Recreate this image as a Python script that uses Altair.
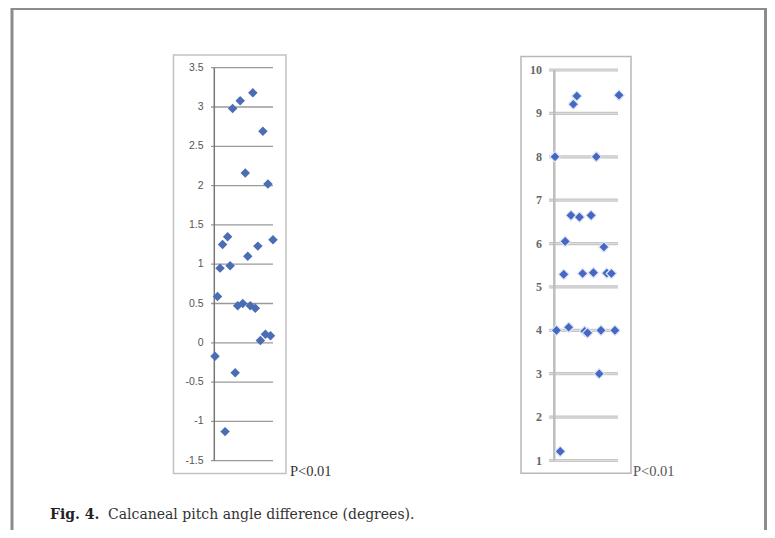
import altair as alt
import pandas as pd

# ---------------- data ----------------
left_index = list(range(1, 25))
left_values = [-0.17, 0.59, 0.95, 1.25, -1.13, 1.35, 0.98, 2.98, -0.38, 0.47, 3.08, 0.50,
               2.16, 1.10, 0.47, 3.18, 0.44, 1.23, 0.03, 2.69, 0.11, 2.02, 0.09, 1.31]
left_ticks = [-1.5, -1.0, -0.5, 0.0, 0.5, 1.0, 1.5, 2.0, 2.5, 3.0, 3.5]
left_tick_labels = ["-1.5", "-1", "-0.5", "0", "0.5", "1", "1.5", "2", "2.5", "3", "3.5"]

right_x = [1.0, 1.5, 2.8, 4.0, 4.5, 5.7, 6.5, 7.3, 8.5, 9.4, 10.5, 11.2,
           12.2, 13.4, 14.2, 15.2, 16.2, 16.8, 17.8, 18.8, 20.4, 21.6, 23.0]
right_values = [8.0, 4.0, 1.21, 5.29, 6.05, 4.07, 6.65, 9.21, 9.40, 6.61, 5.31, 3.98,
                3.94, 6.65, 5.33, 8.0, 3.0, 4.0, 5.92, 5.32, 5.31, 4.0, 9.42]
right_ticks = [1, 2, 3, 4, 5, 6, 7, 8, 9, 10]
right_tick_labels = ["1", "2", "3", "4", "5", "6", "7", "8", "9", "10"]

p_label = "P<0.01"
caption_bold = "Fig. 4."
caption_text = "Calcaneal pitch angle difference (degrees)."

# ---------------- tables ----------------
left_pts = pd.DataFrame({"i": left_index, "v": left_values})
left_tk = pd.DataFrame({"v": left_ticks, "label": left_tick_labels})
left_ax = pd.DataFrame({"lo": [left_ticks[0]], "hi": [left_ticks[-1]]})
right_pts = pd.DataFrame({"i": right_x, "v": right_values})
right_tk = pd.DataFrame({"v": right_ticks, "label": right_tick_labels})
right_ax = pd.DataFrame({"lo": [right_ticks[0]], "hi": [right_ticks[-1]]})
one = pd.DataFrame({"a": [0]})
ptxt = pd.DataFrame({"t": [p_label]})
cap1 = pd.DataFrame({"t": [caption_bold]})
cap2 = pd.DataFrame({"t": [caption_text]})

W, H = 759, 522

LX = alt.Scale(domain=[1, 24], range=[207, 265], nice=False, zero=False)
LY = alt.Scale(domain=[-1.5, 3.5], range=[452.7, 59.7], nice=False, zero=False)
RX = alt.Scale(domain=[1, 23], range=[547, 611], nice=False, zero=False)
RY = alt.Scale(domain=[1, 10], range=[452.5, 62], nice=False, zero=False)

FRAME = "#8c8c8c"

# outer frame
frame_l = alt.Chart(one).mark_rule(color=FRAME, strokeWidth=3).encode(
    x=alt.value(4), y=alt.value(0), y2=alt.value(H))
frame_t = alt.Chart(one).mark_rule(color=FRAME, strokeWidth=3).encode(
    x=alt.value(3), x2=alt.value(759), y=alt.value(0.5))
frame_r = alt.Chart(one).mark_rule(color=FRAME, strokeWidth=3).encode(
    x=alt.value(757.5), y=alt.value(0), y2=alt.value(H))

# panel boxes
box_l = alt.Chart(one).mark_rect(filled=False, stroke="#c2c2c2", strokeWidth=1.5).encode(
    x=alt.value(165.5), x2=alt.value(278), y=alt.value(47), y2=alt.value(465.5))
box_r = alt.Chart(one).mark_rect(filled=False, stroke="#b8b8b8", strokeWidth=1.5).encode(
    x=alt.value(513), x2=alt.value(623), y=alt.value(48.5), y2=alt.value(465.3))

# ---------------- left panel ----------------
l_grid = alt.Chart(left_tk).mark_rule(color="#9a9a9a", strokeWidth=1.3).encode(
    y=alt.Y("v:Q", scale=LY, axis=None), x=alt.value(203), x2=alt.value(265))
l_axis = alt.Chart(left_ax).mark_rule(color="#777777", strokeWidth=1.5).encode(
    x=alt.value(206.3), y=alt.Y("lo:Q", scale=LY, axis=None), y2="hi:Q")
l_lab = alt.Chart(left_tk).mark_text(align="right", baseline="middle", font="Liberation Sans",
                                     fontSize=10.5, color="#555555").encode(
    x=alt.value(195.5), y=alt.Y("v:Q", scale=LY, axis=None), text="label:N")
l_pts = alt.Chart(left_pts).mark_point(shape="diamond", filled=True, size=90, opacity=1,
                                       color="#4a6db3").encode(
    x=alt.X("i:Q", scale=LX, axis=None), y=alt.Y("v:Q", scale=LY, axis=None))
l_p = alt.Chart(ptxt).mark_text(align="left", baseline="alphabetic", font="Liberation Serif",
                                fontSize=14.5, color="#333333").encode(
    x=alt.value(282), y=alt.value(468), text="t:N")

# ---------------- right panel ----------------
r_grid = alt.Chart(right_tk).mark_rule(color="#c6c6c6", strokeWidth=3.2).encode(
    y=alt.Y("v:Q", scale=RY, axis=None), x=alt.value(541), x2=alt.value(610))
r_grid2 = alt.Chart(right_tk).mark_rule(color="#e4e4e4", strokeWidth=0.8).encode(
    y=alt.Y("v:Q", scale=RY, axis=None), x=alt.value(541), x2=alt.value(610))
r_axis = alt.Chart(right_ax).mark_rule(color="#bdbdbd", strokeWidth=2.5).encode(
    x=alt.value(546.3), y=alt.Y("lo:Q", scale=RY, axis=None), y2="hi:Q")
r_lab = alt.Chart(right_tk).mark_text(align="right", baseline="middle", font="Liberation Serif",
                                      fontSize=12, color="#666666", fontWeight="bold").encode(
    x=alt.value(534), y=alt.Y("v:Q", scale=RY, axis=None), text="label:N")
r_pts = alt.Chart(right_pts).mark_point(shape="diamond", filled=True, size=110, opacity=1,
                                        color="#4667c4", stroke="#dfe6f6",
                                        strokeWidth=1.2).encode(
    x=alt.X("i:Q", scale=RX, axis=None), y=alt.Y("v:Q", scale=RY, axis=None))
r_p = alt.Chart(ptxt).mark_text(align="left", baseline="alphabetic", font="Liberation Serif",
                                fontSize=14.5, color="#555555").encode(
    x=alt.value(625), y=alt.value(468), text="t:N")

# ---------------- caption ----------------
c1 = alt.Chart(cap1).mark_text(align="left", baseline="alphabetic", font="DejaVu Serif",
                               fontSize=14, fontWeight="bold", color="#222222").encode(
    x=alt.value(42), y=alt.value(511), text="t:N")
c2 = alt.Chart(cap2).mark_text(align="left", baseline="alphabetic", font="DejaVu Serif",
                               fontSize=14, color="#333333").encode(
    x=alt.value(100), y=alt.value(511), text="t:N")

chart = alt.layer(
    frame_l, frame_t, frame_r, box_l, box_r,
    l_grid, l_axis, l_lab, l_pts, l_p,
    r_grid, r_grid2, r_axis, r_lab, r_pts, r_p,
    c1, c2,
).resolve_scale(x="independent", y="independent").properties(
    width=W, height=H, autosize=alt.AutoSizeParams(type="none"), padding=0,
    background="white",
).configure_view(stroke=None)

chart.save("out.html", embed_options={"renderer": "svg", "actions": False})
